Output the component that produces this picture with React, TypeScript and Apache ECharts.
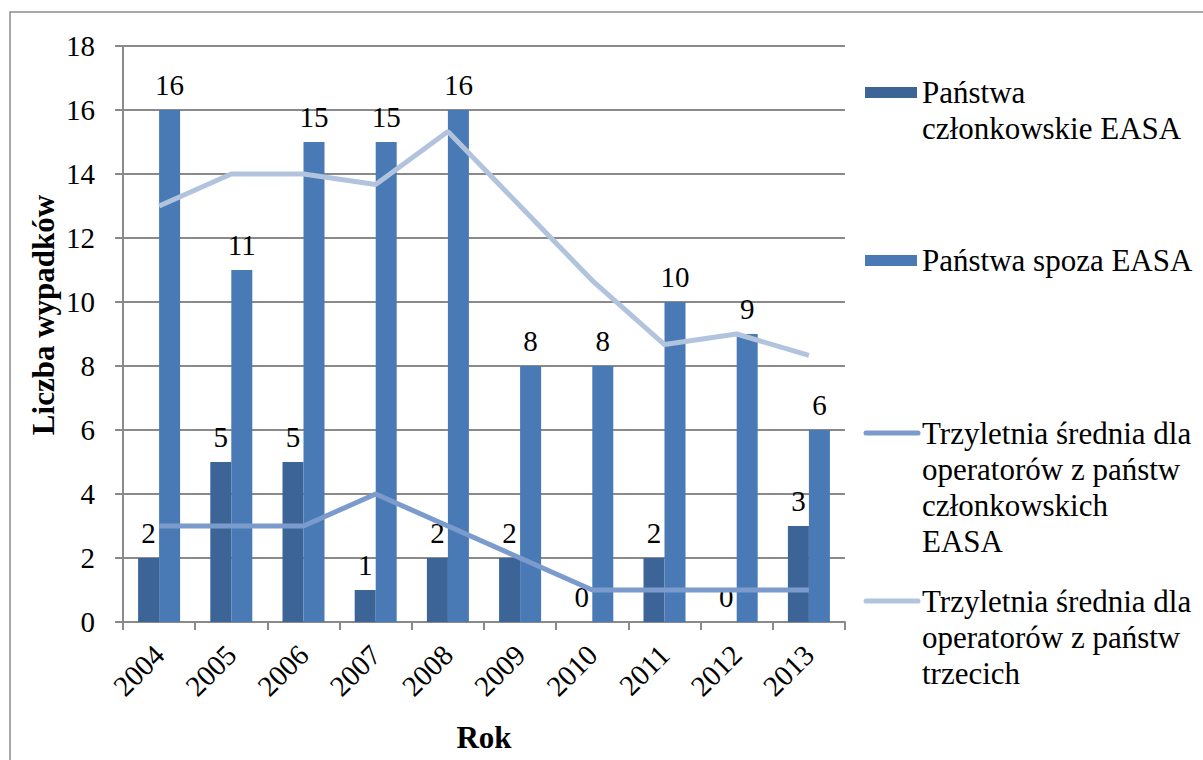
import React, { useEffect, useRef } from "react";
import * as echarts from "echarts";

const years = ["2004", "2005", "2006", "2007", "2008", "2009", "2010", "2011", "2012", "2013"];
const easaMembers = [2, 5, 5, 1, 2, 2, 0, 2, 0, 3];
const nonEasa = [16, 11, 15, 15, 16, 8, 8, 10, 9, 6];
const avgMembers = [3, 3, 3, 4, 3, 2, 1, 1, 1, 1];
const avgThird = [13, 14, 14, 13.67, 15.33, 13, 10.67, 8.67, 9, 8.33];
const yTicks = [0, 2, 4, 6, 8, 10, 12, 14, 16, 18];

const seriesNames = [
  "Państwa\nczłonkowskie EASA",
  "Państwa spoza EASA",
  "Trzyletnia średnia dla\noperatorów z państw\nczłonkowskich\nEASA",
  "Trzyletnia średnia dla\noperatorów z państw\ntrzecich",
];
const xTitle = "Rok";
const yTitle = "Liczba wypadków";

const FONT = "Liberation Serif";
const C_DARK = "#3C6496";
const C_BAR = "#4A7AB5";
const C_LINE1 = "#7B9BCC";
const C_LINE2 = "#B2C3DD";
const GRID = "#8A8A8A";

export default function App() {
  const ref = useRef<HTMLDivElement>(null);
  useEffect(() => {
    if (!ref.current) return;
    const chart = echarts.init(ref.current, undefined, { renderer: "svg" });
    const legendTops = [74, 242, 415, 583];
    const legendIcons = [
      { kind: "rect", color: C_DARK },
      { kind: "rect", color: C_BAR },
      { kind: "line", color: C_LINE1 },
      { kind: "line", color: C_LINE2 },
    ];
    const graphics: any[] = [
      {
        type: "rect",
        shape: { x: 10, y: 12, width: 1220, height: 780 },
        style: { fill: "none", stroke: "#8C8C8C", lineWidth: 1.5 },
        silent: true,
      },
      {
        type: "text",
        x: 43,
        y: 315,
        rotation: Math.PI / 2,
        style: {
          text: yTitle,
          fontFamily: FONT,
          fontSize: 31,
          fontWeight: "bold",
          fill: "#000",
          align: "center",
          verticalAlign: "middle",
        },
      },
    ];
    legendIcons.forEach((ic, i) => {
      const top = legendTops[i];
      if (ic.kind === "rect") {
        graphics.push({
          type: "rect",
          shape: { x: 865, y: top + 13, width: 52, height: 11 },
          style: { fill: ic.color },
        });
      } else {
        graphics.push({
          type: "line",
          shape: { x1: 866, y1: top + 18, x2: 918, y2: top + 18 },
          style: { stroke: ic.color, lineWidth: 5, lineCap: "round" },
        });
      }
      graphics.push({
        type: "text",
        x: 922,
        y: top,
        style: {
          text: seriesNames[i],
          fontFamily: FONT,
          fontSize: 31,
          fill: "#000",
          lineHeight: 36,
          verticalAlign: "top",
        },
      });
    });

    const labelStyle = {
      show: true,
      position: "top",
      distance: 11,
      fontFamily: FONT,
      fontSize: 29,
      color: "#000",
    };

    chart.setOption({
      animation: false,
      textStyle: { fontFamily: FONT },
      grid: { left: 123, top: 46, right: 358, bottom: 138, containLabel: false, outerBoundsMode: "none" },
      xAxis: {
        type: "category",
        data: years,
        name: xTitle,
        nameLocation: "middle",
        nameGap: 100,
        nameTextStyle: { fontFamily: FONT, fontSize: 31, fontWeight: "bold", color: "#000" },
        axisLine: { lineStyle: { color: GRID, width: 2 } },
        axisTick: { show: true, length: 8, lineStyle: { color: GRID, width: 2 } },
        axisLabel: {
          rotate: 45,
          margin: 28,
          fontFamily: FONT,
          fontSize: 29,
          color: "#000",
        },
      },
      yAxis: {
        type: "value",
        min: 0,
        max: 18,
        interval: 2,
        axisLine: { show: true, lineStyle: { color: GRID, width: 2 } },
        axisTick: { show: true, length: 8, lineStyle: { color: GRID, width: 2 } },
        splitLine: { lineStyle: { color: GRID, width: 2 } },
        axisLabel: {
          margin: 28,
          fontFamily: FONT,
          fontSize: 29,
          color: "#000",
          formatter: (v: number) => (yTicks.includes(v) ? String(v) : ""),
        },
      },
      graphic: graphics,
      series: [
        {
          name: seriesNames[0],
          type: "bar",
          data: easaMembers,
          barWidth: 21,
          barGap: "0%",
          itemStyle: { color: C_DARK },
          label: labelStyle,
          z: 2,
        },
        {
          name: seriesNames[1],
          type: "bar",
          data: nonEasa,
          barWidth: 21,
          barGap: "0%",
          itemStyle: { color: C_BAR },
          label: labelStyle,
          z: 2,
        },
        {
          name: seriesNames[2],
          type: "line",
          data: avgMembers,
          showSymbol: false,
          symbol: "none",
          lineStyle: { color: C_LINE1, width: 5 },
          itemStyle: { color: C_LINE1 },
          z: 3,
        },
        {
          name: seriesNames[3],
          type: "line",
          data: avgThird,
          showSymbol: false,
          symbol: "none",
          lineStyle: { color: C_LINE2, width: 5 },
          itemStyle: { color: C_LINE2 },
          z: 3,
        },
      ],
    });
    return () => chart.dispose();
  }, []);
  return (
    <div
      ref={ref}
      style={{ position: "fixed", left: 0, top: 0, width: 1203, height: 760, background: "#fff" }}
    />
  );
}
